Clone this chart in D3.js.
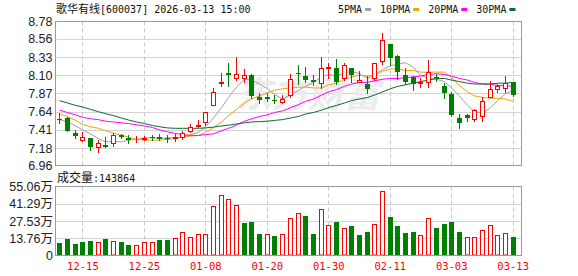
<!DOCTYPE html>
<html>
<head>
<meta charset="utf-8">
<script src="https://cdn.jsdelivr.net/npm/d3@7"></script>
<style>
  body { margin: 0; background: #fff; }
  svg { display: block; }
</style>
</head>
<body>
<div id="chart"></div>
<script>
// ---- data ----
const stockName = "歌华有线";
const stockInfo = "[600037] 2026-03-13 15:00";
const lastVolume = 143864;

const dates = ["12-10","12-11","12-12","12-15","12-16","12-17","12-18","12-19","12-22","12-23",
  "12-24","12-25","12-26","12-29","12-30","12-31","01-05","01-06","01-07","01-08",
  "01-09","01-12","01-13","01-14","01-15","01-16","01-19","01-20","01-21","01-22",
  "01-23","01-26","01-27","01-28","01-29","01-30","02-02","02-03","02-04","02-05",
  "02-06","02-09","02-10","02-11","02-12","02-13","02-24","02-25","02-26","02-27",
  "03-02","03-03","03-04","03-05","03-06","03-09","03-10","03-11","03-12","03-13"];

const open = [7.55,7.56,7.365,7.28,7.31,7.195,7.215,7.24,7.345,7.31,
  7.29,7.30,7.325,7.32,7.305,7.31,7.325,7.39,7.46,7.515,
  7.725,8.00,8.13,8.07,8.07,8.11,7.83,7.82,7.79,7.76,
  7.85,8.135,8.09,8.035,8.00,8.19,8.19,8.06,8.19,8.02,
  7.99,8.06,8.28,8.50,8.34,8.11,8.08,8.00,8.015,8.075,
  7.965,7.86,7.56,7.60,7.55,7.59,7.83,7.93,7.935,8.01];
const high = [7.62,7.57,7.41,7.38,7.31,7.28,7.325,7.37,7.36,7.35,
  7.33,7.33,7.35,7.355,7.34,7.355,7.40,7.48,7.54,7.64,
  7.94,8.13,8.25,8.33,8.175,8.12,7.88,7.88,7.85,7.85,
  8.12,8.23,8.20,8.10,8.33,8.26,8.30,8.25,8.19,8.155,
  8.09,8.25,8.63,8.50,8.36,8.19,8.09,8.07,8.29,8.12,
  8.00,7.895,7.615,7.615,7.68,7.82,8.03,7.995,8.09,8.01];
const low = [7.50,7.39,7.31,7.27,7.16,7.125,7.19,7.21,7.31,7.25,
  7.255,7.28,7.28,7.28,7.255,7.27,7.30,7.38,7.445,7.47,
  7.725,7.965,7.965,8.04,8.01,7.81,7.75,7.77,7.755,7.755,
  7.82,7.985,8.01,7.98,7.945,8.07,7.985,8.045,8.01,8.01,
  7.87,8.045,8.24,8.23,8.05,7.995,7.91,7.955,7.955,8.03,
  7.81,7.58,7.43,7.52,7.52,7.52,7.82,7.89,7.89,7.84];
const close = [7.54,7.39,7.33,7.315,7.20,7.24,7.20,7.345,7.32,7.28,
  7.30,7.31,7.32,7.30,7.295,7.315,7.37,7.45,7.47,7.63,
  7.895,8.015,8.11,8.12,8.10,7.84,7.79,7.80,7.785,7.80,
  8.05,8.125,8.045,8.01,8.19,8.20,8.01,8.23,8.10,8.045,
  7.925,8.25,8.54,8.325,8.145,8.015,7.995,8.01,8.145,8.065,
  7.875,7.60,7.50,7.565,7.66,7.78,7.93,7.97,8.005,7.85];

// volume in 万手
const volume = [9.6,12.9,8.8,10.7,11.2,10.4,12.9,11.2,10.4,8.3,
  8.0,11.0,11.0,12.1,12.1,13.7,19.0,15.0,16.9,17.4,
  39.4,48.0,44.8,40.0,25.7,26.5,16.9,17.4,15.3,16.9,
  30.3,34.3,31.3,16.9,37.5,24.1,26.5,22.3,23.3,16.1,
  18.5,24.9,51.2,30.5,23.3,17.7,18.5,16.1,29.7,21.7,
  24.9,26.5,18.5,15.0,14.5,20.7,24.1,16.1,17.7,14.3864];

const ma5 = [7.54,7.51,7.46,7.41,7.36,7.30,7.26,7.26,7.26,7.28,
  7.29,7.31,7.31,7.30,7.31,7.31,7.32,7.35,7.38,7.45,
  7.56,7.69,7.82,7.95,8.05,8.04,7.99,7.93,7.86,7.80,
  7.85,7.91,7.96,8.01,8.08,8.11,8.09,8.13,8.15,8.12,
  8.06,8.11,8.17,8.22,8.24,8.26,8.20,8.10,8.06,8.05,
  8.02,7.94,7.84,7.72,7.64,7.62,7.69,7.78,7.87,7.91];
const ma10 = [7.61,7.58,7.53,7.48,7.45,7.43,7.40,7.37,7.34,7.32,
  7.29,7.28,7.28,7.28,7.29,7.30,7.32,7.33,7.34,7.38,
  7.44,7.51,7.59,7.67,7.75,7.80,7.84,7.88,7.91,7.93,
  7.94,7.95,7.95,7.94,7.94,7.98,8.00,8.05,8.08,8.10,
  8.09,8.10,8.15,8.18,8.18,8.16,8.16,8.14,8.14,8.14,
  8.14,8.07,7.97,7.89,7.84,7.82,7.81,7.81,7.80,7.77];
const ma20 = [7.66,7.63,7.60,7.57,7.55,7.54,7.52,7.51,7.50,7.49,
  7.475,7.46,7.44,7.41,7.385,7.365,7.35,7.34,7.34,7.35,
  7.36,7.40,7.43,7.47,7.52,7.55,7.58,7.60,7.63,7.65,
  7.69,7.73,7.77,7.80,7.85,7.89,7.92,7.96,7.99,8.01,
  8.01,8.03,8.05,8.06,8.06,8.07,8.08,8.09,8.11,8.12,
  8.11,8.09,8.06,8.04,8.01,7.99,7.99,7.97,7.97,7.96];
const ma30 = [7.78,7.75,7.72,7.70,7.67,7.64,7.615,7.59,7.56,7.535,
  7.51,7.49,7.465,7.45,7.435,7.43,7.43,7.43,7.43,7.435,
  7.445,7.46,7.47,7.485,7.50,7.51,7.515,7.52,7.53,7.54,
  7.56,7.58,7.61,7.63,7.66,7.69,7.72,7.75,7.78,7.80,
  7.82,7.85,7.89,7.93,7.96,7.98,8.00,8.02,8.04,8.06,
  8.06,8.04,8.02,8.00,7.99,7.99,7.99,8.00,8.00,8.01];

const maNames = ["5PMA", "10PMA", "20PMA", "30PMA"];
const maColors = ["#a0a0a0", "#f0a30a", "#ff00ff", "#0a6b36"];
const maSeries = [ma5, ma10, ma20, ma30];

const priceTicks = [6.96, 7.18, 7.41, 7.64, 7.87, 8.10, 8.33, 8.56, 8.78];
const volTicks = [0, 13.76, 27.53, 41.29, 55.06];
const volTickLabels = ["0", "13.76万", "27.53万", "41.29万", "55.06万"];
const xTickDates = ["12-15", "12-25", "01-08", "01-20", "01-30", "02-11", "03-03", "03-13"];

// ---- layout ----
const W = 578, H = 276;
const plotL = 55.5, plotR = 521.5;
const priceTop = 21.5, priceBot = 165.5;
const volTop = 186.5, volBot = 255.5;
const upColor = "#ff0000", downColor = "#008000";
const gridColor = "#d4d4d4", borderColor = "#9a9a9a";

const svg = d3.select("#chart").append("svg")
  .attr("width", W).attr("height", H);

const x = d3.scaleBand()
  .domain(d3.range(dates.length))
  .range([56, 517])
  .paddingInner(0.3)
  .paddingOuter(0.15);
const cx = i => x(i) + x.bandwidth() / 2;
const left = i => Math.round(cx(i) - 2.5);

const y = d3.scaleLinear().domain([6.96, 8.78]).range([priceBot, priceTop]);
const yv = d3.scaleLinear().domain([0, 55.06]).range([volBot, volTop]);

const tickIdx = xTickDates.map(d => dates.indexOf(d));

// ---- grids ----
function drawGrid(g, scale, ticks, top, bot) {
  g.selectAll(".hgrid").data(ticks.slice(1, -1)).enter().append("line")
    .attr("x1", plotL).attr("x2", plotR)
    .attr("y1", d => Math.round(scale(d)) + 0.5)
    .attr("y2", d => Math.round(scale(d)) + 0.5)
    .attr("stroke", gridColor);
  g.selectAll(".vgrid").data(tickIdx).enter().append("line")
    .attr("x1", i => left(i) + 2.5).attr("x2", i => left(i) + 2.5)
    .attr("y1", top).attr("y2", bot)
    .attr("stroke", "#c8c8c8")
    .attr("stroke-dasharray", "4,3");
}

const gPrice = svg.append("g");
drawGrid(gPrice, y, priceTicks, priceTop, priceBot);

// watermark
svg.append("text")
  .attr("x", 236).attr("y", 107)
  .attr("font-family", "Noto Sans CJK SC")
  .attr("font-size", 36).attr("font-weight", "bold")
  .attr("font-style", "italic")
  .attr("fill", "#ebebef")
  .text("东方财富");

const gVol = svg.append("g");
drawGrid(gVol, yv, volTicks, volTop, volBot);

// ---- MA lines ----
maSeries.forEach((s, k) => {
  svg.append("path")
    .datum(s)
    .attr("fill", "none")
    .attr("stroke", maColors[k])
    .attr("stroke-width", 1)
    .attr("d", d3.line().x((d, i) => left(i) + 2.5).y(d => y(d)));
});

// ---- candles ----
const candles = svg.append("g").selectAll("g")
  .data(d3.range(dates.length)).enter().append("g");

candles.append("line")
  .attr("x1", i => left(i) + 2.5).attr("x2", i => left(i) + 2.5)
  .attr("y1", i => Math.round(y(high[i])))
  .attr("y2", i => Math.round(y(low[i])) + 1)
  .attr("stroke", i => close[i] >= open[i] ? upColor : downColor);

candles.append("rect")
  .attr("x", i => close[i] >= open[i] ? left(i) + 0.5 : left(i))
  .attr("width", i => close[i] >= open[i] ? 4 : 5)
  .attr("y", i => close[i] >= open[i]
    ? Math.round(y(close[i])) + 0.5
    : Math.round(y(open[i])))
  .attr("height", i => {
    const h = Math.round(y(Math.min(open[i], close[i]))) - Math.round(y(Math.max(open[i], close[i])));
    return close[i] >= open[i] ? h : Math.max(1, h);
  })
  .attr("fill", i => close[i] >= open[i] ? "#fff" : downColor)
  .attr("stroke", i => close[i] >= open[i] ? upColor : "none");

// ---- volume bars ----
const volUp = i => i === 0 ? close[i] >= open[i] : close[i] >= close[i - 1];

svg.append("g").selectAll("rect")
  .data(d3.range(volume.length)).enter().append("rect")
  .attr("x", i => volUp(i) ? left(i) + 0.5 : left(i))
  .attr("width", i => volUp(i) ? 4 : 5)
  .attr("y", i => Math.round(yv(volume[i])) + (volUp(i) ? 0.5 : 0))
  .attr("height", i => Math.round(volBot - 0.5) - Math.round(yv(volume[i])) - (volUp(i) ? 0.5 : 0))
  .attr("fill", i => volUp(i) ? "#fff" : downColor)
  .attr("stroke", i => volUp(i) ? upColor : "none");

// ---- panel borders ----
[[priceTop, priceBot], [volTop, volBot]].forEach(([t, b]) => {
  svg.append("rect")
    .attr("x", plotL).attr("y", t)
    .attr("width", plotR - plotL).attr("height", b - t)
    .attr("fill", "none").attr("stroke", borderColor);
});

// ---- axes labels ----
const axisFont = "Liberation Sans, Arial, sans-serif";

svg.append("g").selectAll("text")
  .data(priceTicks).enter().append("text")
  .attr("x", 52.5).attr("y", d => y(d))
  .attr("dy", "0.36em")
  .attr("text-anchor", "end")
  .attr("font-family", axisFont).attr("font-size", 12.5)
  .attr("fill", "#222")
  .text(d => d.toFixed(2));

svg.append("g").selectAll("text")
  .data(volTicks).enter().append("text")
  .attr("x", 53).attr("y", d => yv(d))
  .attr("dy", "0.36em")
  .attr("text-anchor", "end")
  .attr("font-family", axisFont + ", Noto Sans CJK SC").attr("font-size", 12.5)
  .attr("fill", "#222")
  .text((d, i) => volTickLabels[i]);

// x axis (dates) under the volume panel
const xAxis = d3.axisBottom(x)
  .tickValues(tickIdx)
  .tickSize(0)
  .tickFormat(i => dates[i]);
const gx = svg.append("g")
  .attr("transform", `translate(0,${volBot + 4})`)
  .call(xAxis);
gx.select(".domain").remove();
gx.selectAll("text")
  .attr("fill", "#ff0000")
  .attr("font-family", "DejaVu Sans Mono, monospace")
  .attr("font-size", 10.5);

// ---- header ----
const title = svg.append("text").attr("x", 56).attr("y", 13).attr("fill", "#111");
title.append("tspan").attr("font-family", "Noto Sans CJK SC").attr("font-size", 11).text(stockName);
title.append("tspan").attr("font-family", "DejaVu Sans Mono").attr("font-size", 10).text(stockInfo);

// legend
let lx = 338;
maNames.forEach((name, k) => {
  const t = svg.append("text")
    .attr("x", lx).attr("y", 12.5)
    .attr("font-family", "DejaVu Sans Mono").attr("font-size", 10)
    .attr("fill", "#111")
    .text(name);
  const tw = t.node().getComputedTextLength();
  svg.append("rect")
    .attr("x", lx + tw + 3).attr("y", 8)
    .attr("width", 6).attr("height", 3)
    .attr("fill", maColors[k]);
  lx += tw + 18;
});

// volume title
const vt = svg.append("text").attr("x", 57).attr("y", 182).attr("fill", "#111");
vt.append("tspan").attr("font-family", "Noto Sans CJK SC").attr("font-size", 12).text("成交量");
vt.append("tspan").attr("font-family", "DejaVu Sans Mono").attr("font-size", 10).text(":" + lastVolume);
</script>
</body>
</html>
